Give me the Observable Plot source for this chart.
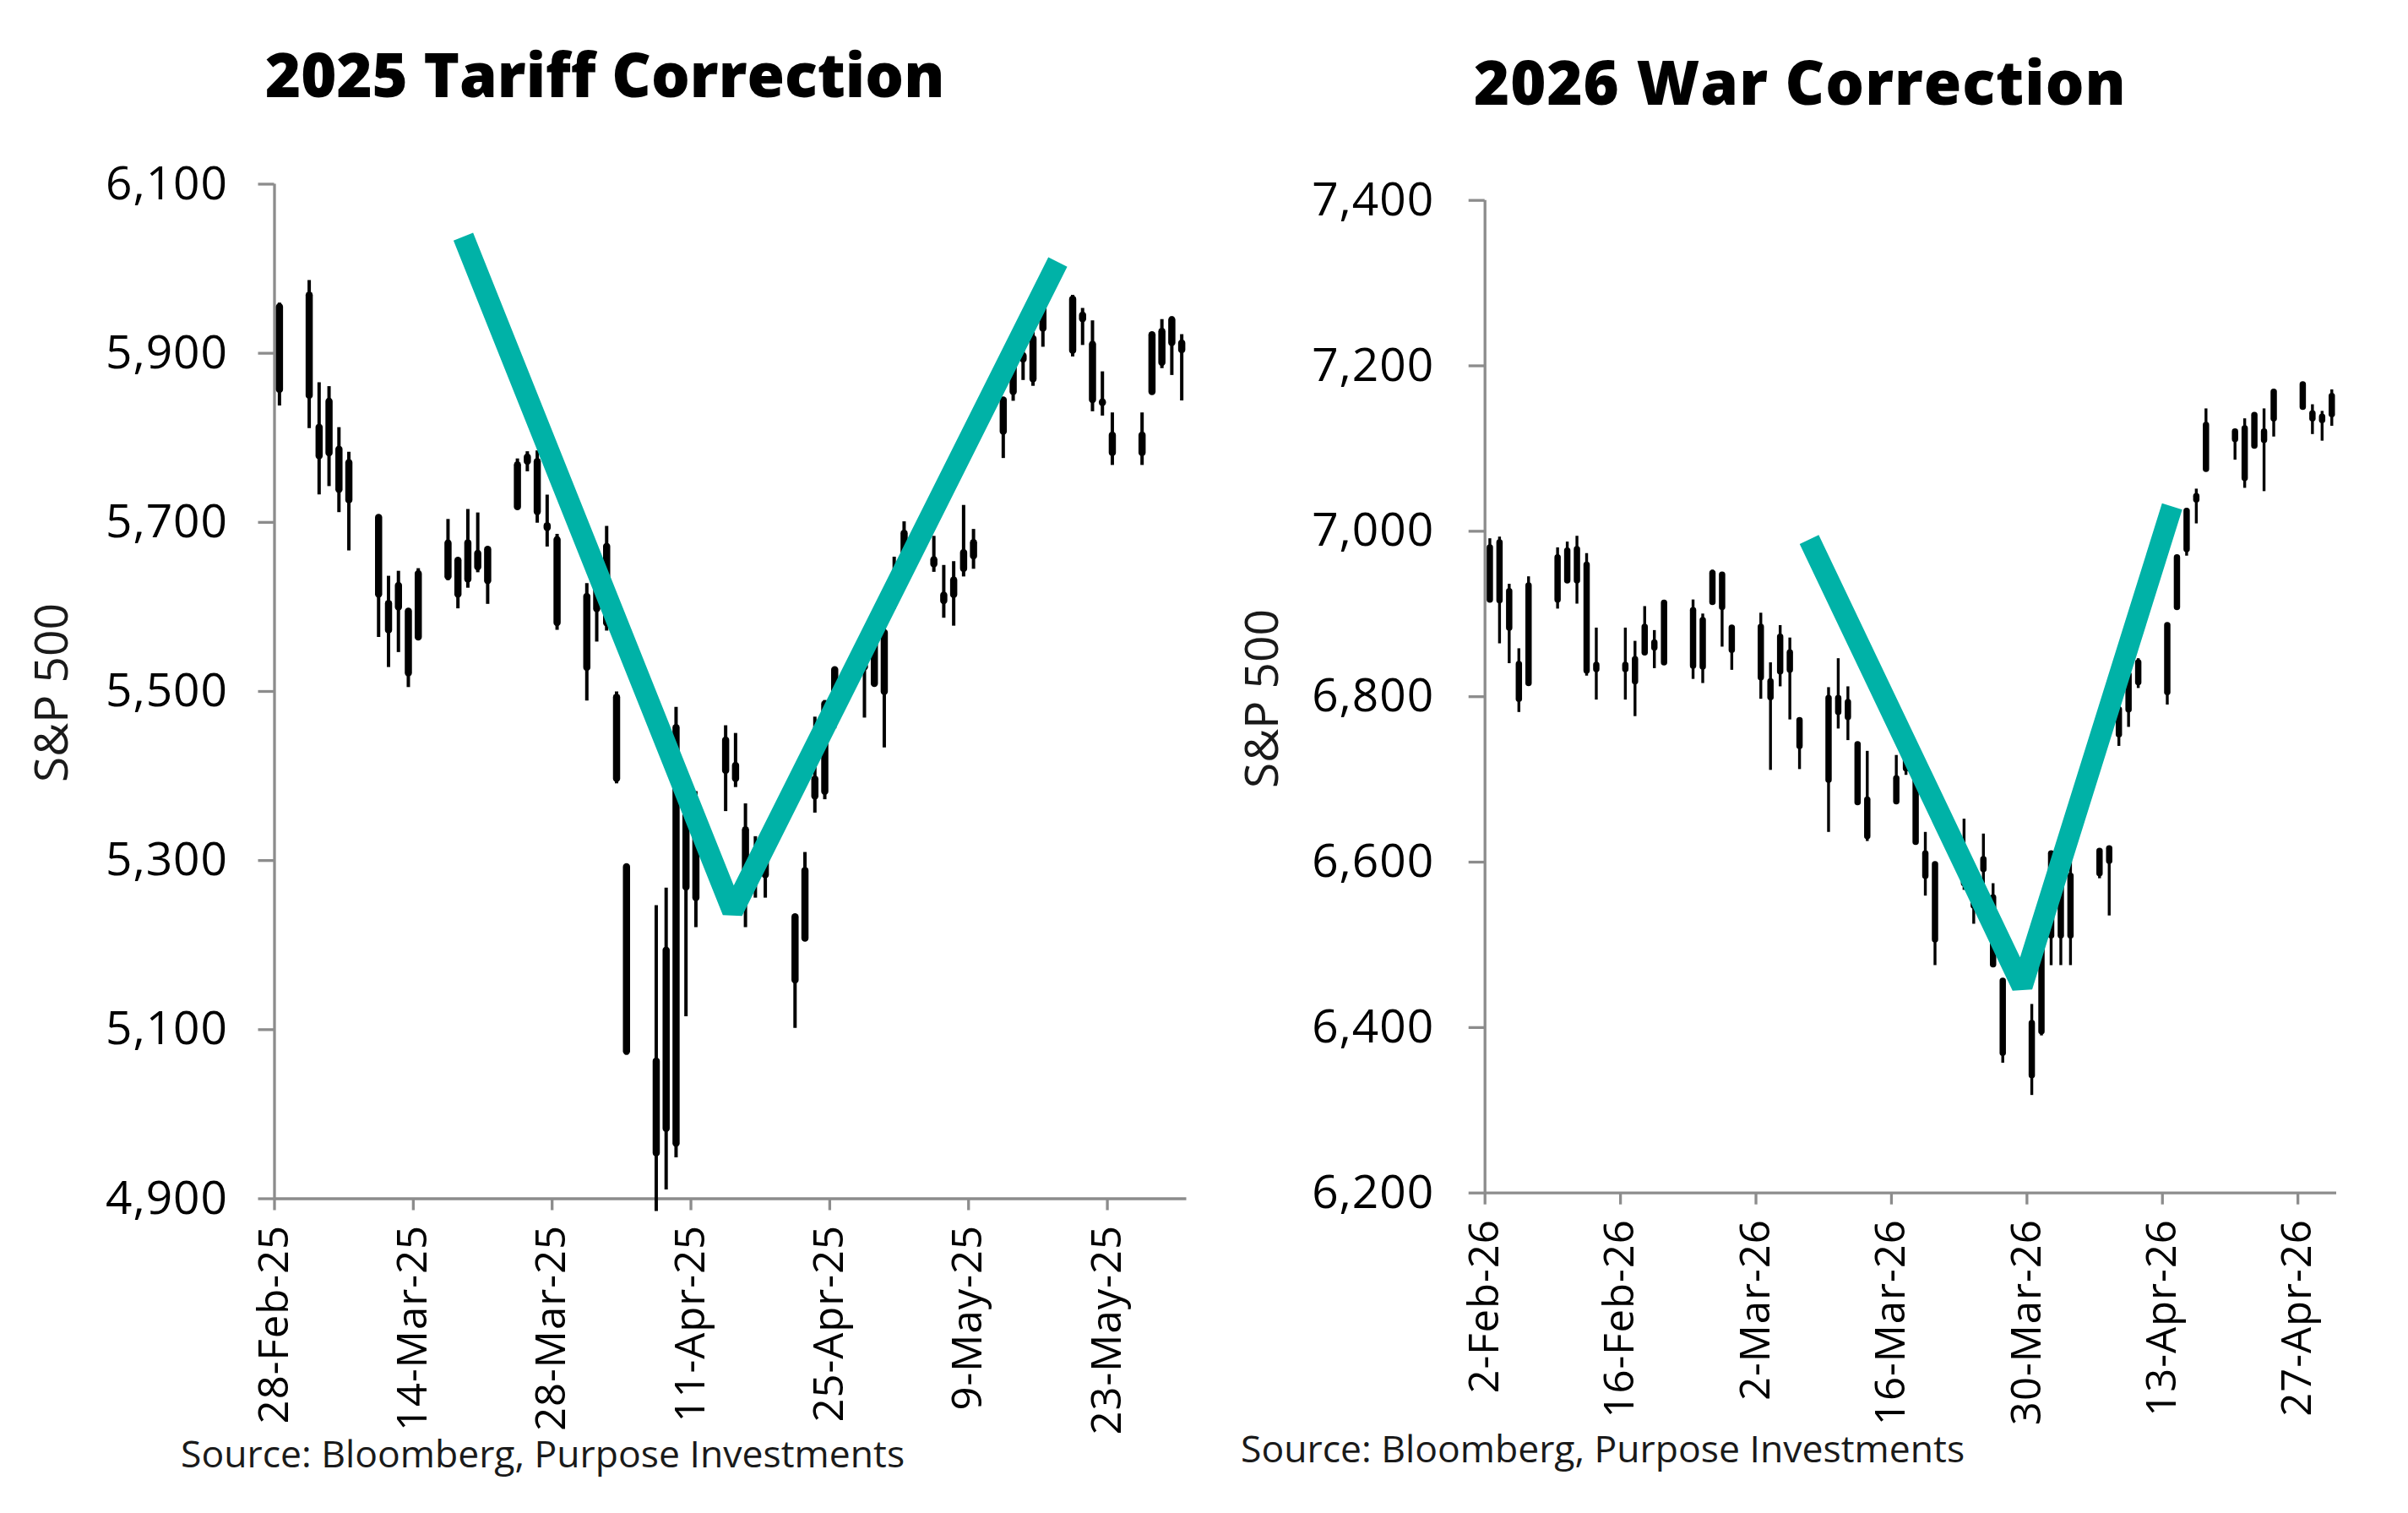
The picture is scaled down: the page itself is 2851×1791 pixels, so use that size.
<!DOCTYPE html>
<html>
<head>
<meta charset="utf-8">
<script src="https://cdn.jsdelivr.net/npm/d3@7"></script>
<script src="https://cdn.jsdelivr.net/npm/@observablehq/plot@0.6"></script>
<style>
  html, body { margin: 0; padding: 0; background: #fff; }
  #page { position: relative; width: 2851px; height: 1791px; background: #fff; font-family: "Open Sans", sans-serif; color: #000; overflow: hidden; }
  .title { position: absolute; font-weight: 800; font-size: 72px; line-height: 1; white-space: nowrap; color: #000; }
  .ylab { position: absolute; font-size: 55px; line-height: 1; white-space: nowrap; color: #1a1a1a; transform: translate(-50%, -50%) rotate(-90deg); }
  .source { position: absolute; font-size: 44.5px; line-height: 1; white-space: nowrap; color: #1a1a1a; }
  .chart { position: absolute; top: 0; }
  .chart svg text { letter-spacing: 1px; }
</style>
</head>
<body>
<div id="page">
  <div class="title" style="left:314px; top:51px;">2025 Tariff Correction</div>
  <div class="title" style="left:1745px; top:60px; letter-spacing:1px;">2026 War Correction</div>
  <div class="ylab" style="left:58px; top:820px;">S&amp;P 500</div>
  <div class="ylab" style="left:1491px; top:827px;">S&amp;P 500</div>
  <div class="source" style="left:214px; top:1698px;">Source: Bloomberg, Purpose Investments</div>
  <div class="source" style="left:1469px; top:1692px;">Source: Bloomberg, Purpose Investments</div>
  <div id="left" class="chart" style="left:0px;"></div>
  <div id="right" class="chart" style="left:1440px;"></div>
</div>
<script>
// ---------- 2025 Tariff Correction (left) ----------
const leftDates = ["2025-02-28","2025-03-03","2025-03-04","2025-03-05","2025-03-06","2025-03-07","2025-03-10","2025-03-11","2025-03-12","2025-03-13","2025-03-14","2025-03-17","2025-03-18","2025-03-19","2025-03-20","2025-03-21","2025-03-24","2025-03-25","2025-03-26","2025-03-27","2025-03-28","2025-03-31","2025-04-01","2025-04-02","2025-04-03","2025-04-04","2025-04-07","2025-04-08","2025-04-09","2025-04-10","2025-04-11","2025-04-14","2025-04-15","2025-04-16","2025-04-17","2025-04-18","2025-04-21","2025-04-22","2025-04-23","2025-04-24","2025-04-25","2025-04-28","2025-04-29","2025-04-30","2025-05-01","2025-05-02","2025-05-05","2025-05-06","2025-05-07","2025-05-08","2025-05-09","2025-05-12","2025-05-13","2025-05-14","2025-05-15","2025-05-16","2025-05-19","2025-05-20","2025-05-21","2025-05-22","2025-05-23","2025-05-26","2025-05-27","2025-05-28","2025-05-29","2025-05-30"];
const leftOpen  = [5856.7,5968.3,5812.0,5781.8,5785.9,5726.0,5705.4,5603.7,5624.8,5594.5,5563.9,5635.6,5654.5,5632.4,5646.9,5630.7,5718.1,5771.7,5771.5,5695.6,5679.1,5527.9,5597.5,5580.8,5492.7,5292.1,4953.8,5193.6,4965.3,5353.2,5255.6,5442.0,5412.0,5335.8,5305.5,5305.5,5232.9,5207.7,5395.9,5381.4,5489.7,5529.2,5508.9,5499.4,5625.1,5645.0,5655.3,5613.5,5614.2,5645.0,5675.7,5807.3,5854.1,5896.7,5869.1,5929.1,5902.9,5944.7,5910.2,5841.3,5781.9,5781.9,5854.1,5925.5,5939.2,5903.7];
const leftHigh  = [5959.4,5986.1,5865.1,5860.6,5812.1,5783.0,5705.4,5636.3,5642.2,5597.8,5645.3,5703.5,5654.5,5715.3,5711.2,5670.8,5775.1,5783.6,5784.6,5732.3,5685.9,5627.6,5650.6,5695.3,5499.5,5292.1,5246.6,5267.5,5481.3,5353.2,5381.5,5459.5,5450.4,5367.2,5328.3,5328.3,5232.9,5309.6,5469.7,5489.4,5528.1,5553.7,5572.0,5581.8,5658.9,5700.7,5683.5,5649.1,5653.6,5720.1,5691.7,5844.2,5906.6,5906.1,5924.6,5958.6,5968.6,5953.1,5938.4,5878.1,5829.5,5829.5,5924.3,5939.9,5943.1,5922.1];
const leftLow   = [5837.7,5810.9,5732.6,5742.4,5711.6,5666.3,5564.0,5528.4,5546.1,5504.7,5563.9,5631.1,5597.8,5622.2,5640.5,5603.1,5718.1,5759.9,5699.1,5670.9,5572.4,5488.7,5558.5,5571.5,5390.8,5069.9,4885.0,4910.4,4948.4,5115.3,5220.8,5358.0,5386.4,5220.8,5255.6,5255.6,5101.6,5207.7,5356.2,5372.0,5455.9,5468.6,5505.7,5433.2,5597.4,5631.9,5641.0,5586.7,5577.3,5635.5,5644.6,5775.6,5843.3,5867.9,5861.0,5907.2,5895.7,5909.3,5830.9,5825.8,5767.4,5767.4,5854.1,5881.9,5873.8,5843.7];
const leftClose = [5954.5,5849.7,5778.2,5842.6,5738.5,5770.2,5614.6,5572.1,5599.3,5521.5,5638.9,5675.1,5614.7,5675.3,5662.9,5667.6,5767.6,5776.7,5712.2,5693.3,5580.9,5611.9,5633.1,5671.0,5396.5,5074.1,5062.3,4982.8,5456.9,5268.1,5363.4,5406.0,5396.6,5275.7,5282.7,5282.7,5158.2,5287.8,5375.9,5484.8,5525.2,5528.8,5560.8,5569.1,5604.1,5686.7,5650.4,5606.9,5631.3,5663.9,5659.9,5844.2,5886.6,5892.6,5916.9,5958.4,5963.6,5940.5,5844.6,5842.0,5802.8,5802.8,5921.5,5888.6,5912.2,5911.7];
const leftXTicks = ["2025-02-28","2025-03-14","2025-03-28","2025-04-11","2025-04-25","2025-05-09","2025-05-23"];
const leftYTicks = [4900, 5100, 5300, 5500, 5700, 5900, 6100];
const leftXDomain = ["2025-02-28", "2025-05-31"];
const leftYDomain = [4900, 6100];
const leftVDates = ["2025-03-19T01:00Z", "2025-04-15T05:00Z", "2025-05-18T00:00Z"];
const leftVValues = [6038, 5240, 6008];

// ---------- 2026 War Correction (right) ----------
const rightDates = ["2026-02-02","2026-02-03","2026-02-04","2026-02-05","2026-02-06","2026-02-09","2026-02-10","2026-02-11","2026-02-12","2026-02-13","2026-02-16","2026-02-17","2026-02-18","2026-02-19","2026-02-20","2026-02-23","2026-02-24","2026-02-25","2026-02-26","2026-02-27","2026-03-02","2026-03-03","2026-03-04","2026-03-05","2026-03-06","2026-03-09","2026-03-10","2026-03-11","2026-03-12","2026-03-13","2026-03-16","2026-03-17","2026-03-18","2026-03-19","2026-03-20","2026-03-23","2026-03-24","2026-03-25","2026-03-26","2026-03-27","2026-03-30","2026-03-31","2026-04-01","2026-04-02","2026-04-03","2026-04-06","2026-04-07","2026-04-08","2026-04-09","2026-04-10","2026-04-13","2026-04-14","2026-04-15","2026-04-16","2026-04-17","2026-04-20","2026-04-21","2026-04-22","2026-04-23","2026-04-24","2026-04-27","2026-04-28","2026-04-29","2026-04-30"];
const rightOpen  = [6917,6986,6927,6839,6816,6968,6976,6978,6959,6838,6838,6845,6853,6865,6841,6904,6892,6914,6947,6883,6884,6818,6830,6832,6771,6798,6781,6793,6742,6675,6701,6725,6699,6610,6597,6581,6559,6591,6557,6456,6342,6395,6610,6583,6583,6586,6616,6754,6784,6817,6805,6908,6978,7038,7075,7111,7064,7103,7110,7136,7150,7142,7134,7141];
const rightHigh  = [6991,6993,6936,6858,6945,6980,6987,6994,6973,6883,6883,6867,6909,6880,6916,6917,6900,6953,6948,6883,6901,6841,6886,6871,6774,6811,6846,6812,6745,6734,6729,6732,6705,6636,6598,6652,6562,6634,6574,6456,6428,6515,6613,6601,6601,6616,6619,6793,6835,6846,6889,6969,7027,7051,7148,7123,7136,7140,7148,7168,7177,7153,7145,7171];
const rightLow   = [6916,6864,6840,6781,6815,6906,6939,6912,6825,6796,6796,6776,6850,6834,6838,6821,6816,6914,6860,6832,6797,6711,6812,6772,6712,6636,6761,6747,6670,6625,6673,6705,6624,6559,6475,6566,6525,6547,6475,6357,6318,6390,6475,6475,6475,6580,6535,6740,6763,6810,6790,6905,6970,7009,7074,7086,7052,7103,7048,7114,7150,7117,7109,7127];
const rightClose = [6980,6916,6883,6797,6934,6917,6940,6940,6831,6833,6833,6818,6884,6859,6913,6837,6836,6949,6908,6856,6823,6799,6872,6853,6740,6699,6798,6775,6672,6631,6673,6713,6624,6583,6506,6574,6547,6603,6476,6369,6405,6506,6511,6511,6511,6613,6601,6784,6826,6841,6886,6968,7024,7042,7128,7120,7124,7140,7120,7168,7177,7136,7138,7163];
const rightXTicks = ["2026-02-02","2026-02-16","2026-03-02","2026-03-16","2026-03-30","2026-04-13","2026-04-27"];
const rightYTicks = [6200, 6400, 6600, 6800, 7000, 7200, 7400];
const rightXDomain = ["2026-02-02", "2026-05-01"];
const rightYDomain = [6200, 7400];
const rightVDates = ["2026-03-07T12:00Z", "2026-03-29T12:00Z", "2026-04-14T00:00Z"];
const rightVValues = [6990, 6450, 7030];

// ---------- shared styling ----------
const AXIS_GRAY = "#8c8c8c";
const TEAL = "#00b2a7";
const fmtDate = d3.utcFormat("%-d-%b-%y");
const DAY = 24 * 3600 * 1000;

function candles(dates, o, h, l, c) {
  return dates.map((d, i) => ({date: new Date(d), open: o[i], high: h[i], low: l[i], close: c[i]}));
}

function chart(cfg) {
  const data = candles(cfg.dates, cfg.open, cfg.high, cfg.low, cfg.close);
  const xd = cfg.xDomain.map(s => new Date(s));
  const mid = d => new Date(d.date.getTime() + DAY / 2);
  const vee = cfg.vDates.map((d, i) => ({x: new Date(d), y: cfg.vValues[i]}));
  return Plot.plot({
    width: cfg.width,
    height: 1700,
    marginLeft: cfg.marginLeft,
    marginRight: cfg.marginRight,
    marginTop: cfg.marginTop,
    marginBottom: cfg.marginBottom,
    style: {fontFamily: "'Open Sans', sans-serif", color: "#000", background: "transparent", overflow: "visible"},
    x: {type: "utc", domain: xd},
    y: {domain: cfg.yDomain},
    marks: [
      Plot.axisY({ticks: cfg.yTicks, tickFormat: d3.format(","), tickSize: 19, tickPadding: cfg.yPad, fontSize: 55, stroke: AXIS_GRAY, strokeWidth: 3.3, fill: "#000", label: null}),
      Plot.axisX({ticks: cfg.xTicks.map(s => new Date(s)), tickFormat: fmtDate, tickRotate: -90, tickSize: 14, tickPadding: 17, fontSize: 49, stroke: AXIS_GRAY, strokeWidth: 3.3, fill: "#000", label: null}),
      Plot.ruleX([xd[0]], {y1: cfg.yDomain[0], y2: cfg.yDomain[1], stroke: AXIS_GRAY, strokeWidth: 3.3}),
      Plot.ruleY([cfg.yDomain[0]], {x1: xd[0], x2: xd[1], stroke: AXIS_GRAY, strokeWidth: 3.3}),
      Plot.ruleX(data, {x: mid, y1: "low", y2: "high", stroke: "#000", strokeWidth: cfg.wick}),
      Plot.ruleX(data, {x: mid, y1: "open", y2: "close", stroke: "#000", strokeWidth: cfg.body, strokeLinecap: "round"}),
      Plot.line(vee, {x: "x", y: "y", stroke: TEAL, strokeWidth: 25, strokeLinejoin: "bevel", strokeLinecap: "butt"})
    ]
  });
}

document.getElementById("left").append(chart({
  dates: leftDates, open: leftOpen, high: leftHigh, low: leftLow, close: leftClose,
  xTicks: leftXTicks, yTicks: leftYTicks, xDomain: leftXDomain, yDomain: leftYDomain,
  vDates: leftVDates, vValues: leftVValues,
  width: 1440, marginLeft: 324.5, marginRight: 35.5, marginTop: 217.5, marginBottom: 281.5,
  yPad: 36, wick: 4, body: 8.5
}));

document.getElementById("right").append(chart({
  dates: rightDates, open: rightOpen, high: rightHigh, low: rightLow, close: rightClose,
  xTicks: rightXTicks, yTicks: rightYTicks, xDomain: rightXDomain, yDomain: rightYDomain,
  vDates: rightVDates, vValues: rightVValues,
  width: 1411, marginLeft: 317.7, marginRight: 85, marginTop: 236.7, marginBottom: 288.3,
  yPad: 41, wick: 3.4, body: 7.5
}));
</script>
</body>
</html>
